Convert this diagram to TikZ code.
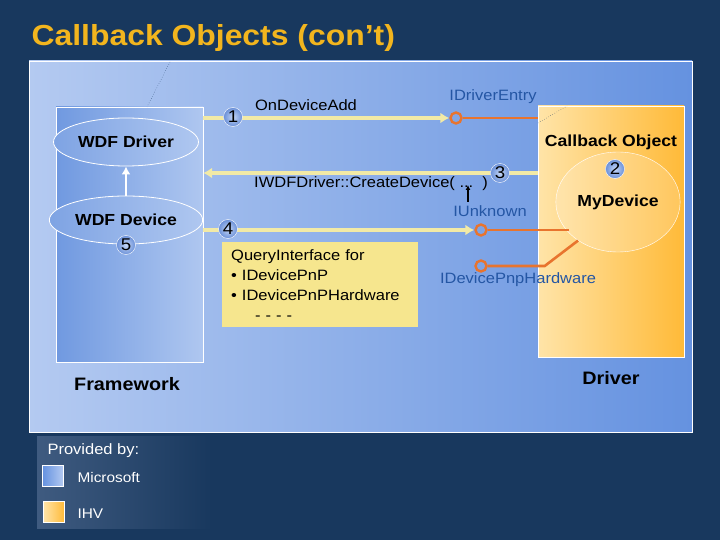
\documentclass[tikz,border=0pt]{standalone}
\usepackage{fontspec}
\setmainfont{Liberation Sans}[FakeStretch=1.1]
\usetikzlibrary{arrows.meta,shapes.geometric}

\definecolor{navy}{HTML}{18385E}
\definecolor{gold}{HTML}{F2B51E}
\definecolor{panelA}{HTML}{B4CAF1}
\definecolor{panelB}{HTML}{6592E0}
\definecolor{fwA}{HTML}{7099E0}
\definecolor{fwB}{HTML}{AFC7F0}
\definecolor{orA}{HTML}{FFE4A8}
\definecolor{orB}{HTML}{FFBA38}
\definecolor{pale}{HTML}{F2EAA6}
\definecolor{orng}{HTML}{E8742E}
\definecolor{ifc}{HTML}{2456A4}
\definecolor{notey}{HTML}{F6E68E}
\definecolor{bIn}{HTML}{C4D6F6}
\definecolor{bOut}{HTML}{6A90D8}
\definecolor{legA}{HTML}{3F5B80}

\begin{document}
\begin{tikzpicture}[x=1pt,y=-1pt,
    yarrow/.style={draw=pale,line width=4.5pt,-{Latex[length=9pt,width=11pt]}},
    oline/.style={draw=orng,line width=2.6pt},
    lolli/.style={circle,draw=orng,line width=2.4pt,minimum size=11pt,inner sep=0pt},
    badge/.style={circle,draw=white,inner sep=0pt,minimum size=19pt,inner color=bIn,outer color=bOut,font=\fontsize{17}{17}\selectfont},
    blob/.style={ellipse,draw=white,thick,left color=fwA!90,right color=fwB,minimum width=126pt,minimum height=48pt,font=\fontsize{16}{18}\selectfont\bfseries},
    ifname/.style={text=ifc,font=\fontsize{15}{18}\selectfont},
    lbl/.style={font=\fontsize{15}{18}\selectfont},
    big/.style={font=\fontsize{18}{20}\selectfont\bfseries},
    legend/.style={text=white,font=\fontsize{14}{16}\selectfont,anchor=west}]

    % background and panel
    \fill[navy] (0,0) rectangle (720,540);
    \path[use as bounding box] (0,0) rectangle (720,540);
    \node[anchor=base west,text=gold,font=\fontsize{29}{31}\selectfont\bfseries] (title) at (28,46) {Callback Objects (con’t)};
    \draw[white,thin,left color=panelA,right color=panelB] (29,61) rectangle (692,432);

    % framework side
    \node[draw=white,thin,left color=fwA,right color=fwB,minimum width=147pt,minimum height=255pt] (fw) at (129.5,234.5) {};
    \node[blob] (drv) at (126,142) {WDF Driver};
    \node[blob] (dev) at (126,220) {WDF Device};
    \node[badge] (n5) at (126,245) {5};
    \draw[white,line width=2.5pt,-{Latex[length=8pt,width=9pt]}] (dev) -- (drv);
    \node[big] (fwl) at (127,384) {Framework};

    % driver side
    \node[draw=white,thin,left color=orA,right color=orB,minimum width=146pt,minimum height=251pt] (cb) at (611,231.5) {};
    \node[font=\fontsize{16}{18}\selectfont\bfseries] (cbl) at (611,142) {Callback Object};
    \node[ellipse,draw=white,fill=white,fill opacity=.18,text opacity=1,minimum width=108pt,minimum height=100pt,font=\fontsize{16}{18}\selectfont\bfseries] (myd) at (618,202) {MyDevice};
    \node[badge] (n2) at (615,169) {2};
    \node[big] (drl) at (611,378) {Driver};

    % interfaces
    \node[lolli] (ide) at (456,118) {};
    \node[lolli] (iu) at (481,230) {};
    \node[lolli] (hw) at (481,266) {};
    \node[ifname] (idel) at (493,97) {IDriverEntry};
    \node[ifname] (iul) at (490,211) {IUnknown};
    \node[ifname] (hwl) at (518,280) {IDevicePnpHardware};
    \draw[oline] (ide.east) -- (cb.west |- ide);
    \draw[oline] (iu.east) -- (myd.212 |- iu);
    \draw[oline] (hw.east) -- ++(57,0) -- (myd.224);

    % calls
    \draw[yarrow] (fw.east |- ide) -- (ide.west);
    \draw[yarrow] (cb.west |- 0,173) -- (fw.east |- 0,173);
    \draw[yarrow] (fw.east |- iu) -- (iu.west);
    \node[badge] (n1) at (233,117) {1};
    \node[badge] (n3) at (500,173) {3};
    \node[badge] (n4) at (228,229) {4};
    \node[lbl] (add) at (306,105) {OnDeviceAdd};
    \node[lbl,anchor=west,inner sep=0pt] (crt) at (254,184) {IWDFDriver::CreateDevice( ...\ \ )};
    \coordinate (dots) at (468,185);
    \draw[line width=1.2pt,-{Latex[length=5pt,width=5pt]}] (dots |- iul.north) -- (dots);

    % query note
    \node[fill=notey,anchor=north west,minimum width=194pt,minimum height=85pt,text width=178pt,inner xsep=9pt,align=left,font=\fontsize{15}{20}\selectfont] (qi) at (222,242)
      {QueryInterface for\\ • IDevicePnP\\ • IDevicePnPHardware\\ \hspace*{24pt}- - - -};

    % dotted leaders
    \coordinate (t1) at (170,62);
    \coordinate (t2) at (147,107);
    \coordinate (t3) at (538,123);
    \coordinate (t4) at (567,106);
    \draw[navy,dotted,thin] (t1) -- (t2);
    \draw[navy,dotted,thin] (t3) -- (t4);

    % legend
    \shade[left color=legA,right color=navy] (37,436) rectangle (212,528);
    \node[legend,font=\fontsize{15}{17}\selectfont] (prov) at (44,451) {Provided by:};
    \node[draw=white,thin,left color=panelB,right color=panelA,minimum size=21pt,inner sep=0pt] (ms) at (53,476) {};
    \node[draw=white,thin,left color=orA,right color=orB,minimum size=21pt,inner sep=0pt] (ihv) at (54,512) {};
    \node[legend] (msl) at (74,477) {Microsoft};
    \node[legend] (ihvl) at (74,514) {IHV};

\end{tikzpicture}
\end{document}
